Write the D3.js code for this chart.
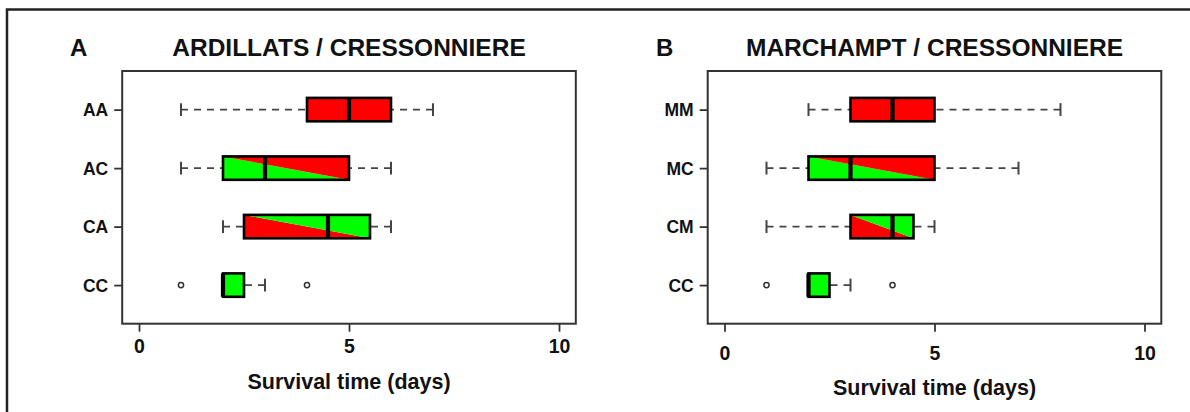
<!DOCTYPE html>
<html>
<head>
<meta charset="utf-8">
<script src="https://cdn.jsdelivr.net/npm/d3@7"></script>
<style>
  html, body { margin: 0; padding: 0; background: #fff; }
  svg { display: block; font-family: "Liberation Sans", Arial, sans-serif; font-weight: bold; }
</style>
</head>
<body>
<svg id="chart" width="1190" height="412"></svg>
<script>
// ---------- DATA ----------
// Positions 1..4 from bottom to top
const panelA_labels = ["CC", "CA", "AC", "AA"];
const panelA_low    = [2, 2, 1, 1];
const panelA_q1     = [2, 2.5, 2, 4];
const panelA_median = [2, 4.5, 3, 5];
const panelA_q3     = [2.5, 5.5, 5, 6];
const panelA_high   = [3, 6, 6, 7];
const panelA_outliers = [[1, 4], [], [], []];
const panelA_fill   = ["green", "redLow", "greenLow", "red"];

const panelB_labels = ["CC", "CM", "MC", "MM"];
const panelB_low    = [2, 1, 1, 2];
const panelB_q1     = [2, 3, 2, 3];
const panelB_median = [2, 4, 3, 4];
const panelB_q3     = [2.5, 4.5, 5, 5];
const panelB_high   = [3, 5, 7, 8];
const panelB_outliers = [[1, 4], [], [], []];
const panelB_fill   = ["green", "redLow", "greenLow", "red"];

const xTicks = [0, 5, 10];
const xTitle = "Survival time (days)";
const titles = ["ARDILLATS / CRESSONNIERE", "MARCHAMPT / CRESSONNIERE"];
const letters = ["A", "B"];

// ---------- LAYOUT ----------
const RED = "#ff0000", GREEN = "#00ff00";
const svg = d3.select("#chart");

// outer frame (top + left)
svg.append("path")
  .attr("d", "M7,412 L7,9.5 L1190,9.5")
  .attr("fill", "none").attr("stroke", "#222").attr("stroke-width", 2.5);

const panels = [
  { left: 122.2, right: 575.8, letterX: 70, tickBase: 353, titleBase: 389,
    labels: panelA_labels, low: panelA_low, q1: panelA_q1, med: panelA_median,
    q3: panelA_q3, high: panelA_high, out: panelA_outliers, fill: panelA_fill },
  { left: 707.7, right: 1161.3, letterX: 656, tickBase: 360, titleBase: 394.5,
    labels: panelB_labels, low: panelB_low, q1: panelB_q1, med: panelB_median,
    q3: panelB_q3, high: panelB_high, out: panelB_outliers, fill: panelB_fill }
];
const plotTop = 71, plotBottom = 323.7;

panels.forEach((p, pi) => {
  const g = svg.append("g");
  const x = d3.scaleLinear().domain([-0.4, 10.4]).range([p.left, p.right]);
  const y = d3.scaleLinear().domain([0.34, 4.66]).range([plotBottom, plotTop]);
  const halfBox = (y(0) - y(0.2));
  const halfStaple = (y(0) - y(0.11));

  // letter and title
  g.append("text").attr("x", p.letterX).attr("y", 55.5)
    .attr("font-size", 24).attr("fill", "#111").text(letters[pi]);
  g.append("text").attr("x", (p.left + p.right) / 2).attr("y", 55.5)
    .attr("text-anchor", "middle").attr("font-size", 24.5).attr("fill", "#111").text(titles[pi]);

  // boxes
  p.labels.forEach((lab, i) => {
    const pos = i + 1;
    const cy = y(pos);
    const yt = cy - halfBox, yb = cy + halfBox;
    const x1 = x(p.q1[i]), x3 = x(p.q3[i]);

    // whiskers (dashed), from staple to box
    const wg = g.append("g").attr("stroke", "#444").attr("stroke-width", 1.6);
    if (p.low[i] < p.q1[i]) {
      wg.append("line").attr("x1", x(p.low[i])).attr("x2", x1).attr("y1", cy).attr("y2", cy)
        .attr("stroke-dasharray", "7,6");
    }
    if (p.high[i] > p.q3[i]) {
      wg.append("line").attr("x1", x(p.high[i])).attr("x2", x3).attr("y1", cy).attr("y2", cy)
        .attr("stroke-dasharray", "7,6");
    }
    [p.low[i], p.high[i]].forEach(v => {
      wg.append("line").attr("x1", x(v)).attr("x2", x(v))
        .attr("y1", cy - halfStaple).attr("y2", cy + halfStaple).attr("stroke-width", 2);
    });

    // fills
    const f = p.fill[i];
    if (f === "red" || f === "green") {
      g.append("rect").attr("x", x1).attr("y", yt).attr("width", x3 - x1).attr("height", yb - yt)
        .attr("fill", f === "red" ? RED : GREEN);
    } else {
      const lowerLeft = [[x1, yt], [x3, yb], [x1, yb]];
      const upperRight = [[x1, yt], [x3, yt], [x3, yb]];
      const llCol = f === "greenLow" ? GREEN : RED;
      const urCol = f === "greenLow" ? RED : GREEN;
      g.append("polygon").attr("points", lowerLeft.map(d => d.join(",")).join(" ")).attr("fill", llCol);
      g.append("polygon").attr("points", upperRight.map(d => d.join(",")).join(" ")).attr("fill", urCol);
    }
    g.append("rect").attr("x", x1).attr("y", yt).attr("width", x3 - x1).attr("height", yb - yt)
      .attr("fill", "none").attr("stroke", "#000").attr("stroke-width", 2.6);
    // median
    g.append("line").attr("x1", x(p.med[i])).attr("x2", x(p.med[i]))
      .attr("y1", yt).attr("y2", yb).attr("stroke", "#000").attr("stroke-width", 4.2);

    // outliers
    p.out[i].forEach(v => {
      g.append("circle").attr("cx", x(v)).attr("cy", cy).attr("r", 2.6)
        .attr("fill", "none").attr("stroke", "#333").attr("stroke-width", 1.5);
    });
  });

  // plot frame
  g.append("rect").attr("x", p.left).attr("y", plotTop).attr("width", p.right - p.left).attr("height", plotBottom - plotTop)
    .attr("fill", "none").attr("stroke", "#333").attr("stroke-width", 2);

  // y axis
  const yAxis = d3.axisLeft(y).tickValues([1, 2, 3, 4]).tickSize(8).tickPadding(6)
    .tickFormat(d => p.labels[d - 1]);
  const ya = g.append("g").attr("transform", `translate(${p.left},0)`).call(yAxis);
  ya.select(".domain").remove();
  ya.selectAll(".tick line").attr("stroke", "#333").attr("stroke-width", 1.8);
  ya.selectAll(".tick text").attr("font-size", 17.5).attr("font-family", "Liberation Sans, Arial, sans-serif")
    .attr("font-weight", "bold").attr("fill", "#111").attr("dy", "0.36em");

  // x axis
  const xAxis = d3.axisBottom(x).tickValues(xTicks).tickSize(8).tickFormat(d3.format("d"));
  const xa = g.append("g").attr("transform", `translate(0,${plotBottom})`).call(xAxis);
  xa.select(".domain").remove();
  xa.selectAll(".tick line").attr("stroke", "#333").attr("stroke-width", 1.8);
  xa.selectAll(".tick text").attr("font-size", 19.5).attr("font-family", "Liberation Sans, Arial, sans-serif")
    .attr("font-weight", "bold").attr("fill", "#111")
    .attr("dy", null).attr("y", p.tickBase - plotBottom);

  // x title
  g.append("text").attr("x", (p.left + p.right) / 2).attr("y", p.titleBase)
    .attr("text-anchor", "middle").attr("font-size", 21.5).attr("fill", "#111").text(xTitle);
});
</script>
</body>
</html>
